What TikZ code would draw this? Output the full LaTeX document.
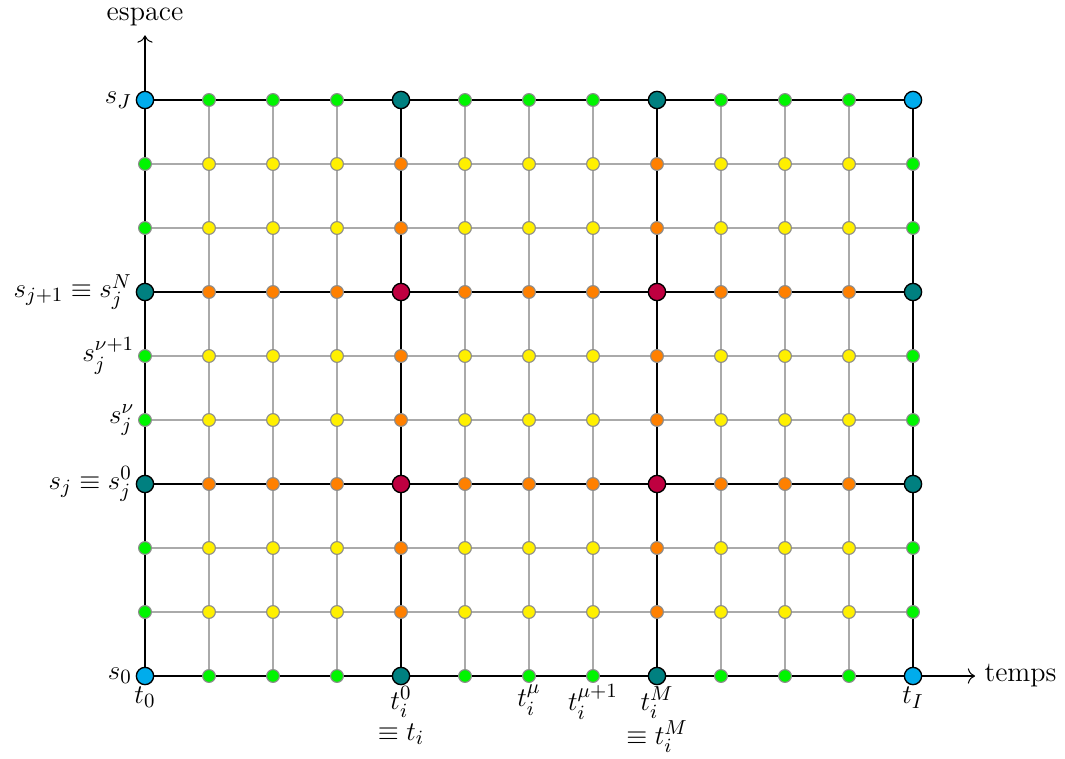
\documentclass[tikz,border=0pt]{standalone}
\usepackage{amssymb}
\usetikzlibrary{arrows.meta}
\definecolor{cyanc}{RGB}{0,172,236}
\definecolor{tealc}{RGB}{0,128,128}
\definecolor{redc}{RGB}{191,0,64}
\definecolor{orangec}{RGB}{255,128,0}
\definecolor{yellowc}{RGB}{255,240,0}
\definecolor{greenc}{RGB}{0,245,0}
\definecolor{gridgray}{RGB}{170,170,170}
\definecolor{dotgray}{RGB}{140,140,140}
\tikzset{
  dotbase/.style={circle,inner sep=0pt},
  bigdot/.style={dotbase,minimum size=0.27cm,draw=black,line width=0.6pt},
  smalldot/.style={dotbase,minimum size=0.2cm,draw=dotgray,line width=0.5pt},
  cyandot/.style={bigdot,fill=cyanc},
  tealdot/.style={bigdot,fill=tealc},
  reddot/.style={bigdot,fill=redc},
  greendot/.style={smalldot,fill=greenc},
  orangedot/.style={smalldot,fill=orangec},
  yellowdot/.style={smalldot,fill=yellowc},
  thinline/.style={draw=gridgray,line width=0.6pt},
  thickline/.style={draw=black,line width=1pt},
  axisline/.style={draw=black,line width=0.45pt,-{To[scale=1.25]}},
  lbl/.style={inner sep=1.5pt,font=\fontsize{12.5}{13.5}\selectfont},
}
\begin{document}
\begin{tikzpicture}
\useasboundingbox (-2.2656,-1.2813) rectangle (14.375,10.5625);
% dots
\foreach \i in {0,...,12}{
  \foreach \j in {0,...,9}{
    \pgfmathtruncatemacro\bi{(\i==0 || \i==12 || \j==0 || \j==9) ? 1 : 0}
    \pgfmathtruncatemacro\ci{((\i==0 || \i==12) && (\j==0 || \j==9)) ? 1 : 0}
    \pgfmathtruncatemacro\mi{mod(\i,4)==0 ? 1 : 0}
    \pgfmathtruncatemacro\mj{mod(\j,3)==0 ? 1 : 0}
    \pgfmathtruncatemacro\both{\mi*\mj}
    \pgfmathtruncatemacro\any{max(\mi,\mj)}
    \ifnum\ci=1 \def\st{cyandot}\else
      \ifnum\both=1
        \ifnum\bi=1 \def\st{tealdot}\else\def\st{reddot}\fi
      \else
        \ifnum\bi=1 \def\st{greendot}\else
          \ifnum\any=1 \def\st{orangedot}\else\def\st{yellowdot}\fi
        \fi
      \fi
    \fi
    \node[\st] (n-\i-\j) at (\i,\j) {};
  }
}
% horizontal segments
\foreach \j in {0,...,9}{
  \pgfmathtruncatemacro\mj{mod(\j,3)==0 ? 1 : 0}
  \ifnum\mj=1 \def\ls{thickline}\else\def\ls{thinline}\fi
  \foreach \i [evaluate=\i as \k using int(\i+1)] in {0,...,11}{
    \draw[\ls] (n-\i-\j) -- (n-\k-\j);
  }
}
% vertical segments
\foreach \i in {0,...,12}{
  \pgfmathtruncatemacro\mi{mod(\i,4)==0 ? 1 : 0}
  \ifnum\mi=1 \def\ls{thickline}\else\def\ls{thinline}\fi
  \foreach \j [evaluate=\j as \k using int(\j+1)] in {0,...,8}{
    \draw[\ls] (n-\i-\j) -- (n-\i-\k);
  }
}
% axes
\coordinate (tend) at (12.97,0);
\coordinate (eend) at (0,10.01);
\draw[axisline] (n-12-0) -- (tend);
\draw[axisline] (n-0-9) -- (eend);
\node[lbl,anchor=west,inner sep=4pt] (temps) at (tend) {temps};
\node[lbl,anchor=south,inner sep=4pt] (espace) at (eend) {espace};
% space labels
\node[lbl,anchor=east] (l0) at (n-0-0.west) {$s_0$};
\node[lbl,anchor=east] (l3) at (n-0-3.west) {$s_j\equiv s_j^0$};
\node[lbl,anchor=east] (l4) at (n-0-4.west) {$s_j^{\nu}$};
\node[lbl,anchor=east] (l5) at (n-0-5.west) {$s_j^{\nu+1}$};
\node[lbl,anchor=east] (l6) at (n-0-6.west) {$s_{j+1}\equiv s_j^N$};
\node[lbl,anchor=east] (l9) at (n-0-9.west) {$s_J$};
% time labels
\node[lbl,anchor=north,inner sep=0.5pt] (t0) at (n-0-0.south) {$t_0$};
\node[lbl,anchor=north,inner sep=0.5pt,align=center] (t4) at (n-4-0.south) {$t_i^0$\\$\equiv t_i$};
\node[lbl,anchor=north,inner sep=0.5pt] (t6) at (n-6-0.south) {$t_i^{\mu}$};
\node[lbl,anchor=north,inner sep=0.5pt] (t7) at (n-7-0.south) {$t_i^{\mu+1}$};
\node[lbl,anchor=north,inner sep=0.5pt,align=center] (t8) at (n-8-0.south) {$t_i^M$\\$\equiv t_i^M$};
\node[lbl,anchor=north,inner sep=0.5pt] (t12) at (n-12-0.south) {$t_I$};
\end{tikzpicture}
\end{document}
